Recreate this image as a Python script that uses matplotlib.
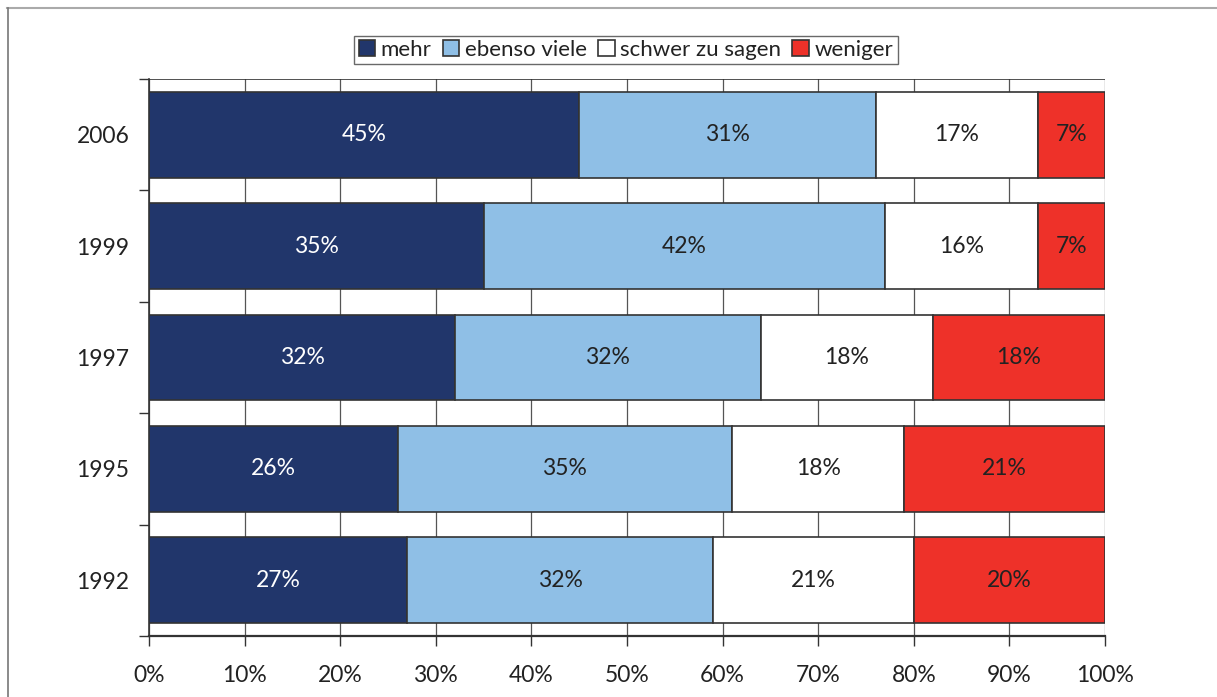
import matplotlib.pyplot as plt
from matplotlib.lines import Line2D
from matplotlib.patches import Patch
import numpy as np

years = ["2006", "1999", "1997", "1995", "1992"]
series = ["mehr", "ebenso viele", "schwer zu sagen", "weniger"]
mehr = [45, 35, 32, 26, 27]
ebenso = [31, 42, 32, 35, 32]
schwer = [17, 16, 18, 18, 21]
weniger = [7, 7, 18, 21, 20]
colors = ["#21366b", "#8fbfe6", "#ffffff", "#ee3129"]
text_colors = ["white", "#222222", "#222222", "#222222"]

plt.rcParams['font.family'] = ['Lato', 'DejaVu Sans']

fig = plt.figure(figsize=(12.17, 6.97), dpi=100)
ax = fig.add_axes([149 / 1217, 1 - 636 / 697, (1105 - 149) / 1217, (636 - 79) / 697])

# frame lines of the figure (top and left only)
fig.add_artist(Line2D([7 / 1217, 1], [1 - 7.5 / 697, 1 - 7.5 / 697], color="#aaaaaa", lw=1.5))
fig.add_artist(Line2D([7.5 / 1217, 7.5 / 1217], [0, 1 - 7.5 / 697], color="#777777", lw=1.2))

data = [mehr, ebenso, schwer, weniger]
ypos = np.arange(len(years))[::-1]
left = np.zeros(len(years))
for vals, col, tcol in zip(data, colors, text_colors):
    vals = np.array(vals, dtype=float)
    ax.barh(ypos, vals, left=left, height=0.77, color=col, edgecolor="#333333",
            linewidth=1.2, zorder=3)
    for y, l, v in zip(ypos, left, vals):
        ax.text(l + v / 2, y, f"{int(v)}%", ha="center", va="center",
                color=tcol, fontsize=16.5, zorder=4)
    left += vals

ax.set_xlim(0, 100)
ax.set_ylim(-0.5, len(years) - 0.5)
ax.set_xticks(np.arange(0, 101, 10))
ax.set_xticklabels([f"{v}%" for v in range(0, 101, 10)], fontsize=16.5, color="#222222")
ax.set_yticks(ypos)
ax.set_yticklabels(years, fontsize=16.5, color="#222222")
ax.tick_params(axis="y", length=0, pad=14)
ax.tick_params(axis="x", length=7, width=1, color="#333333", pad=14)

# boundary ticks on the y axis
ax.set_yticks(np.arange(-0.5, len(years), 1), minor=True)
ax.tick_params(axis="y", which="minor", length=7, width=1, color="#333333")

ax.grid(axis="x", color="#555555", linewidth=0.9, zorder=0)
ax.spines["right"].set_visible(False)
ax.spines["top"].set_visible(False)
ax.axhline(len(years) - 0.5, color="#333333", lw=1.2, zorder=2)
ax.spines["left"].set_color("#333333")
ax.spines["bottom"].set_color("#333333")
ax.spines["bottom"].set_linewidth(1.6)
ax.spines["left"].set_linewidth(1.2)

handles = [Patch(facecolor=c, edgecolor="#333333", linewidth=1.2) for c in colors]
leg = fig.legend(handles, series, loc="center", bbox_to_anchor=(626 / 1217, 1 - 50 / 697),
                 ncol=4, fontsize=16, frameon=True, fancybox=False, handlelength=0.75,
                 handleheight=0.75, handletextpad=0.25, columnspacing=0.5,
                 borderpad=0.2, edgecolor="#444444")
leg.get_frame().set_linewidth(1.0)
for t in leg.get_texts():
    t.set_color("#222222")

fig.savefig("out.png", dpi=100, facecolor="white")
